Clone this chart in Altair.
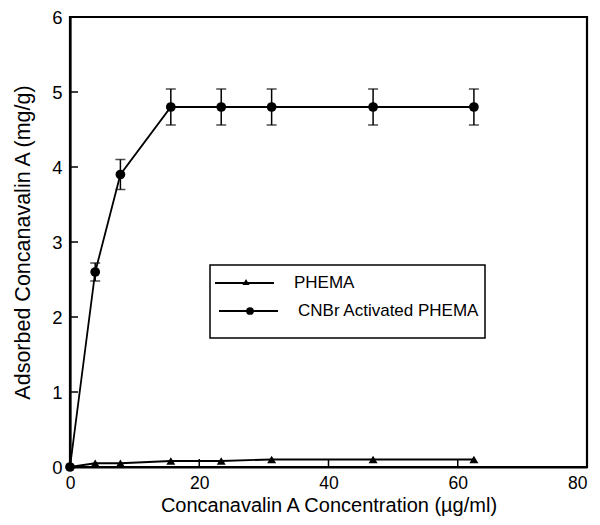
import altair as alt
import pandas as pd

conc = [0, 3.9, 7.8, 15.6, 23.4, 31.2, 46.9, 62.5]
cnbr = [0, 2.6, 3.9, 4.8, 4.8, 4.8, 4.8, 4.8]
cnbr_err = [0, 0.12, 0.2, 0.24, 0.24, 0.24, 0.24, 0.24]
phema = [0, 0.05, 0.05, 0.08, 0.08, 0.1, 0.1, 0.1]
x_ticks = [20, 40, 60]
y_ticks = [1, 2, 3, 4, 5]
legend_labels = ["PHEMA", "CNBr Activated PHEMA"]

rows = []
for c, v in zip(conc, phema):
    rows.append({"conc": c, "val": v, "series": "PHEMA"})
for c, v in zip(conc, cnbr):
    rows.append({"conc": c, "val": v, "series": "CNBr"})
df = pd.DataFrame(rows)

err = pd.DataFrame({
    "conc": conc,
    "lo": [v - e for v, e in zip(cnbr, cnbr_err)],
    "hi": [v + e for v, e in zip(cnbr, cnbr_err)],
    "e": cnbr_err,
})
err = err[err["e"] > 0]

W, H = 517, 450
xs = alt.Scale(domain=[0, 80], nice=False)
ys = alt.Scale(domain=[0, 6], nice=False)

xax = alt.Axis(values=[0, 20, 40, 60, 80], title="Concanavalin A Concentration (µg/ml)",
               format="d", labelPadding=7, titlePadding=4, labelFlush=False,
               labelFontSize=17.5,
               labelAlign={"condition": {"test": "datum.value == 80", "value": "right"}, "value": "center"},
               titleFontSize=20)
yax = alt.Axis(values=[0, 1, 2, 3, 4, 5, 6], title="Adsorbed Concanavalin A (mg/g)",
               format="d", labelPadding=8, titlePadding=17, labelFlush=False,
               labelFontSize=18.5, titleFontSize=21.5)

base = alt.Chart(df)

lines = base.mark_line(color="black", strokeWidth=1.8).encode(
    x=alt.X("conc:Q", scale=xs, axis=xax),
    y=alt.Y("val:Q", scale=ys, axis=yax),
    detail="series:N",
)

tri = base.transform_filter("datum.series == 'PHEMA' && datum.conc > 0").mark_point(
    shape="triangle-up", filled=True, color="black", size=80, opacity=1
).encode(x="conc:Q", y="val:Q")

circ = base.transform_filter("datum.series == 'CNBr'").mark_circle(
    color="black", size=95, opacity=1
).encode(x="conc:Q", y="val:Q")

ebar = alt.Chart(err).mark_rule(color="black", strokeWidth=1.5).encode(
    x="conc:Q", y="lo:Q", y2="hi:Q"
)
cap_lo = alt.Chart(err).mark_tick(color="black", orient="horizontal", size=10, thickness=1.5).encode(
    x="conc:Q", y="lo:Q"
)
cap_hi = alt.Chart(err).mark_tick(color="black", orient="horizontal", size=10, thickness=1.5).encode(
    x="conc:Q", y="hi:Q"
)

xt = alt.Chart(pd.DataFrame({"t": x_ticks})).mark_rule(color="black", strokeWidth=1.5).encode(
    x="t:Q", y=alt.value(H), y2=alt.value(H - 8)
)
yt = alt.Chart(pd.DataFrame({"t": y_ticks})).mark_rule(color="black", strokeWidth=1.5).encode(
    y="t:Q", x=alt.value(0), x2=alt.value(8)
)

# legend
one = pd.DataFrame({"a": [0]})
leg_box = alt.Chart(one).mark_rect(fill="white", stroke="black", strokeWidth=1.5).encode(
    x=alt.value(140), x2=alt.value(415), y=alt.value(248), y2=alt.value(321)
)
leg_l1 = alt.Chart(one).mark_rule(color="black", strokeWidth=1.8).encode(
    x=alt.value(145), x2=alt.value(204), y=alt.value(266)
)
leg_l2 = alt.Chart(one).mark_rule(color="black", strokeWidth=1.8).encode(
    x=alt.value(149), x2=alt.value(208), y=alt.value(294)
)
leg_p1 = alt.Chart(one).mark_point(shape="triangle-up", filled=True, color="black", size=50, opacity=1).encode(
    x=alt.value(176), y=alt.value(265)
)
leg_p2 = alt.Chart(one).mark_circle(color="black", size=60, opacity=1).encode(
    x=alt.value(180), y=alt.value(294)
)
leg_t1 = alt.Chart(one).mark_text(text=legend_labels[0], align="left", baseline="middle",
                                  font="Liberation Sans", fontSize=17, color="black").encode(
    x=alt.value(224), y=alt.value(266)
)
leg_t2 = alt.Chart(one).mark_text(text=legend_labels[1], align="left", baseline="middle",
                                  font="Liberation Sans", fontSize=17, color="black").encode(
    x=alt.value(228), y=alt.value(294)
)

chart = alt.layer(
    lines, ebar, cap_lo, cap_hi, tri, circ, xt, yt,
    leg_box, leg_l1, leg_l2, leg_p1, leg_p2, leg_t1, leg_t2
).properties(
    width=W, height=H,
    background="white",
    autosize=alt.AutoSizeParams(type="none"),
    padding={"left": 62, "top": 9, "right": 5, "bottom": 50},
).configure_view(
    stroke="black", strokeWidth=2.2
).configure_axis(
    grid=False, domainColor="black", domainWidth=2.2, tickSize=0,
    labelFont="Liberation Sans", titleFont="Liberation Sans",
    labelColor="black", titleColor="black",
    titleFontWeight="normal",
)

chart.save("out.html", embed_options={"renderer": "svg", "actions": False})
